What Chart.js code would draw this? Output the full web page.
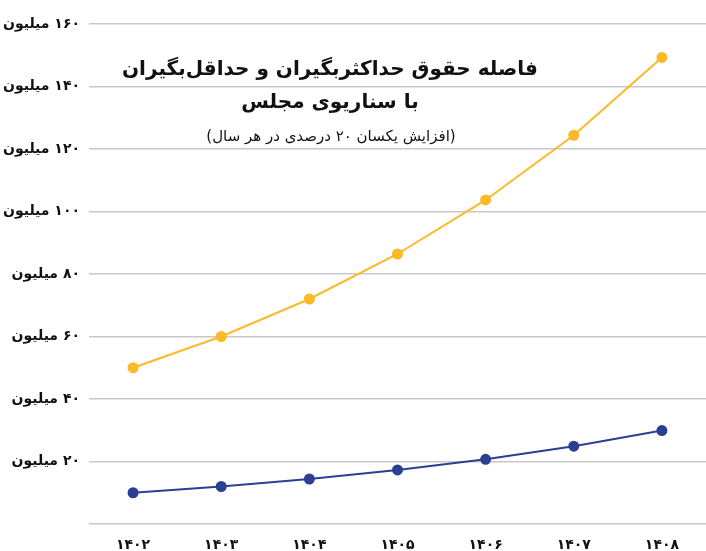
<!DOCTYPE html>
<html lang="fa">
<head>
<meta charset="utf-8">
<script src="https://cdn.jsdelivr.net/npm/chart.js@4"></script>
<style>
  html, body { margin: 0; padding: 0; background: #ffffff; }
  #wrap { width: 706px; height: 551px; }
</style>
</head>
<body>
<div id="wrap"><canvas id="gapChart" dir="rtl"></canvas></div>
<script>
const years = ["۱۴۰۲", "۱۴۰۳", "۱۴۰۴", "۱۴۰۵", "۱۴۰۶", "۱۴۰۷", "۱۴۰۸"];
const maxSalary = [50, 60, 72, 86.4, 103.7, 124.4, 149.3];
const minSalary = [10, 12, 14.4, 17.3, 20.7, 24.9, 29.9];
const titleLines = [
  "فاصله حقوق حداکثربگیران و حداقل‌بگیران",
  "با سناریوی مجلس",
  "(افزایش یکسان ۲۰ درصدی در هر سال)",
];

const faDigits = "۰۱۲۳۴۵۶۷۸۹";
function toFa(n) {
  return String(n).replace(/\d/g, d => faDigits[d]);
}

const titlePlugin = {
  id: "inlineTitle",
  afterDraw(chart) {
    const ctx = chart.ctx;
    ctx.save();
    ctx.direction = "rtl";
    ctx.textAlign = "center";
    ctx.textBaseline = "middle";
    ctx.fillStyle = "#111111";
    ctx.font = "bold 20px 'DejaVu Sans'";
    ctx.fillText(titleLines[0], 330, 70);
    ctx.fillText(titleLines[1], 330, 103);
    ctx.font = "15px 'DejaVu Sans'";
    ctx.fillText(titleLines[2], 331, 137);
    ctx.restore();
  },
};

new Chart(document.getElementById("gapChart"), {
  type: "line",
  data: {
    labels: years,
    datasets: [
      {
        label: "حداکثر",
        data: maxSalary,
        borderColor: "#fdb927",
        backgroundColor: "#fdb927",
        borderWidth: 2,
        pointRadius: 4.5,
        tension: 0,
      },
      {
        label: "حداقل",
        data: minSalary,
        borderColor: "#2b3f93",
        backgroundColor: "#2b3f93",
        borderWidth: 2,
        pointRadius: 4.5,
        tension: 0,
      },
    ],
  },
  options: {
    responsive: true,
    maintainAspectRatio: false,
    animation: false,
    layout: {
      autoPadding: false,
      padding: { top: 24, right: 0, bottom: 0, left: 0 },
    },
    plugins: {
      legend: { display: false },
      tooltip: { enabled: false },
    },
    scales: {
      x: {
        offset: true,
        afterFit(scale) {
          scale.height = 27;
        },
        grid: { display: false, drawTicks: false },
        border: { display: false },
        ticks: {
          color: "#111111",
          padding: 13,
          font: { family: "DejaVu Sans", size: 14, weight: "bold" },
        },
      },
      y: {
        min: 0,
        max: 160,
        afterFit(scale) {
          scale.width = 89;
        },
        grid: {
          color: "#c8c8c8",
          lineWidth: 1.5,
          drawTicks: false,
        },
        border: { display: false },
        ticks: {
          stepSize: 20,
          padding: 9,
          color: "#111111",
          font: { family: "DejaVu Sans", size: 14, weight: "bold" },
          callback: value => (value === 0 ? "" : `${toFa(value)} میلیون`),
        },
      },
    },
  },
  plugins: [titlePlugin],
});
</script>
</body>
</html>
